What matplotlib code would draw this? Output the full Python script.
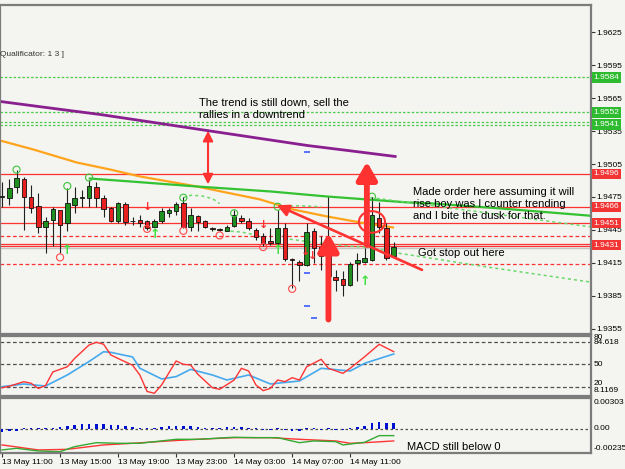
import numpy as np
import matplotlib
matplotlib.use("Agg")
import matplotlib.pyplot as plt
import matplotlib.transforms as mtransforms
from matplotlib.patches import Ellipse

plt.rcParams['font.family'] = ['Liberation Sans', 'DejaVu Sans']

# __________________________________________________
# Data (M30 bars, index 0 = 13 May 11:00)
opens  = [1.94752, 1.94737, 1.94837, 1.94918, 1.94752, 1.94667, 1.94480, 1.94541, 1.94631, 1.94516,
          1.94677, 1.94737, 1.94743, 1.94843, 1.94743, 1.94646, 1.94532, 1.94686, 1.94532, 1.94541,
          1.94532, 1.94480, 1.94535, 1.94601, 1.94622, 1.94692, 1.94480, 1.94577, 1.94532, 1.94471,
          1.94459, 1.94441, 1.94489, 1.94556, 1.94532, 1.94450, 1.94390, 1.94344, 1.94329, 1.94471,
          1.94184, 1.94157, 1.94133, 1.94435, 1.94293, 1.94210, 1.94018, 1.94006, 1.93943, 1.94148,
          1.94157, 1.94178, 1.94560, 1.94471, 1.94208]
highs  = [1.94888, 1.94918, 1.94994, 1.94933, 1.94858, 1.94782, 1.94571, 1.94661, 1.94631, 1.94828,
          1.94843, 1.94812, 1.94903, 1.94888, 1.94767, 1.94661, 1.94707, 1.94707, 1.94571, 1.94586,
          1.94541, 1.94547, 1.94646, 1.94646, 1.94707, 1.94752, 1.94646, 1.94586, 1.94541, 1.94480,
          1.94465, 1.94495, 1.94631, 1.94586, 1.94556, 1.94465, 1.94420, 1.94465, 1.94631, 1.94510,
          1.94193, 1.94178, 1.94510, 1.94465, 1.94390, 1.94752, 1.94088, 1.94073, 1.94154, 1.94239,
          1.94284, 1.94752, 1.94700, 1.94510, 1.94335]
lows   = [1.94661, 1.94677, 1.94782, 1.94450, 1.94601, 1.94420, 1.94239, 1.94299, 1.94239, 1.94435,
          1.94601, 1.94661, 1.94661, 1.94661, 1.94571, 1.94526, 1.94516, 1.94495, 1.94495, 1.94480,
          1.94450, 1.94474, 1.94510, 1.94571, 1.94586, 1.94465, 1.94435, 1.94435, 1.94465, 1.94435,
          1.94435, 1.94435, 1.94480, 1.94510, 1.94450, 1.94359, 1.94299, 1.94314, 1.94314, 1.94163,
          1.93921, 1.93982, 1.94118, 1.94148, 1.94088, 1.94000, 1.93891, 1.93846, 1.93937, 1.93982,
          1.94148, 1.94163, 1.94420, 1.94178, 1.94193]
closes = [1.94755, 1.94828, 1.94927, 1.94752, 1.94652, 1.94480, 1.94532, 1.94640, 1.94495, 1.94692,
          1.94737, 1.94752, 1.94849, 1.94743, 1.94637, 1.94532, 1.94698, 1.94522, 1.94535, 1.94510,
          1.94471, 1.94532, 1.94622, 1.94631, 1.94686, 1.94480, 1.94586, 1.94526, 1.94480, 1.94459,
          1.94453, 1.94480, 1.94586, 1.94535, 1.94471, 1.94381, 1.94329, 1.94329, 1.94471, 1.94184,
          1.94172, 1.94127, 1.94426, 1.94284, 1.94208, 1.94030, 1.93997, 1.93943, 1.94139, 1.94178,
          1.94193, 1.94586, 1.94480, 1.94193, 1.94290]

time_ticks  = [0, 8, 16, 24, 32, 40, 48]
time_labels = ['13 May 11:00', '13 May 15:00', '13 May 19:00', '13 May 23:00',
               '14 May 03:00', '14 May 07:00', '14 May 11:00']

# moving averages (bar index, price)
purple_x = [-0.3, 6.6, 13.5, 20.4, 27.3, 34.7, 42.1, 48.2, 54.2]
purple_y = [1.95621, 1.95561, 1.95502, 1.95434, 1.95365, 1.95292, 1.95219, 1.95169, 1.95119]
orange_x = [-0.3, 4.3, 10.3, 14.9, 19.0, 26.9, 35.6, 40.1, 44.8, 49.4, 53.9]
orange_y = [1.95265, 1.95183, 1.95064, 1.95000, 1.94937, 1.94845, 1.94727, 1.94636, 1.94572, 1.94517, 1.94472]
green_x  = [12.1, 17.7, 26.9, 37.0, 44.8, 55.9, 59.4, 68.7, 80.7, 81.5]
green_y  = [1.94918, 1.94891, 1.94845, 1.94800, 1.94754, 1.94700, 1.94690, 1.94645, 1.94581, 1.94575]

# light green dashed curves
dash_curves = [
    ([25, 26, 27.5, 29, 30], [1.94743, 1.94765, 1.94760, 1.94735, 1.94690]),
    ([29, 31, 33, 34.6], [1.94453, 1.94440, 1.94430, 1.94408]),
    ([38, 41, 44], [1.94661, 1.94670, 1.94660]),
    ([50.8, 65.7, 80.7, 81.5], [1.94745, 1.94615, 1.94481, 1.94475]),
    ([38, 43, 48, 51, 54, 67, 81.5], [1.94380, 1.94335, 1.94300, 1.94290, 1.94244, 1.94110, 1.93970]),
]

# horizontal levels
red_levels    = [1.9496, 1.9466, 1.9451, 1.94325, 1.94305]
red_dashed    = [1.94393, 1.94138]
green_dotted  = [1.9584, 1.9552, 1.95437, 1.95407]
bid_price     = 1.94285
level_boxes   = [(1.9584, 'g'), (1.9552, 'g'), (1.9541, 'g'),
                 (1.9496, 'r'), (1.9466, 'r'), (1.9451, 'r'), (1.9431, 'r')]

# fractal / signal marks
hi_circles_x = [2, 9, 12, 25, 32, 38, 51]
hi_circles_y = [1.94999, 1.94849, 1.94927, 1.94743, 1.94601, 1.94661, 1.94752]
lo_circles_x = [8, 20, 25, 30, 36, 40]
lo_circles_y = [1.94199, 1.94459, 1.94441, 1.94399, 1.94293, 1.93912]
up_arrows    = [(9, 1.94263), (21, 1.94405), (38, 1.94263), (50, 1.93982)]
down_arrows  = [(20, 1.94661), (36, 1.94495), (41.8, 1.94244), (42.8, 1.94216)]
blue_marks_x = [42, 42, 42, 43]
blue_marks_y = [1.95163, 1.94058, 1.93759, 1.93650]

# stochastic (bar index, value)
stoch_k_x = [0, 1, 3, 4, 5, 6, 7, 9, 10, 12, 13, 14, 15, 16, 18, 19, 20, 21, 22, 24, 25, 26, 27,
             29, 30, 32, 33, 34, 35, 36, 37, 38, 39, 40, 41, 42, 44, 45, 47, 48, 50, 52, 54]
stoch_k_y = [19, 21, 27, 25, 18, 22, 40, 47, 58, 76, 79.6, 77, 62.7, 58, 49, 36, 14, 11.6, 22.7, 54.7,
             50.2, 49.3, 37, 19, 16.9, 29.3, 44.9, 41.3, 22.7, 15.1, 18.2, 29.3, 27.1, 32.4, 29.3, 47,
             56.9, 44.9, 38.2, 44.9, 60.4, 76.9, 67.1]
stoch_d_x = [0, 3, 6, 9, 12, 14, 15, 18, 19, 22, 24, 26, 29, 31, 34, 37, 41, 44, 48, 50, 54]
stoch_d_y = [20.4, 24, 21.3, 36, 54, 67, 66.2, 60, 45, 30.7, 33.8, 43.5, 36, 29.3, 36, 24, 28,
             44.9, 41.3, 51.6, 64]

# MACD histogram (x1e-4) per bar and its two lines
macd_hist = [-3, -2, -2, 1, 1, 0.5, 1, 1, 2, 3, 4, 5, 5, 5, 5, 4, 4, 3, 2, 1, 0.5, 1, 2, 3, 3, 3, 3,
             2, 1, 1, 1, 1.5, 2, 2, 1, 0.5, -1, -1, 1, -1, -1.5, -1.5, 1, 1, -1, 0.5, -1, -1, 1, 1.5,
             3, 6, 7, 6, 6]
macd_g_x = [0, 2, 5, 8, 10, 13, 16, 19, 24, 27, 32, 35, 38, 41, 43, 46, 47, 50, 52, 54]
macd_g_y = [-0.00205, -0.00189, -0.00215, -0.00222, -0.00173, -0.00134, -0.00140, -0.00140, -0.00101,
            -0.00101, -0.00081, -0.00085, -0.00085, -0.00134, -0.00117, -0.00124, -0.00156, -0.00130,
            -0.00065, -0.00065]
macd_r_x = [0, 5, 9, 14, 18, 23, 27, 32, 37, 41, 46, 48, 50, 54]
macd_r_y = [-0.00156, -0.00205, -0.00199, -0.00156, -0.00140, -0.00117, -0.00101, -0.00085, -0.00085,
            -0.00101, -0.00117, -0.00140, -0.00134, -0.00117]

# __________________________________________________
# Figure
BG   = '#f4f4f0'
RED  = '#ff3232'
EDGE = '#7c7c7c'
XLIM = (-0.28, 81.2)

fig = plt.figure(figsize=(6.25, 4.69), dpi=100, facecolor=BG)
ax  = fig.add_axes([0, 0.2878, 0.9456, 0.7015], facecolor=BG)
ax2 = fig.add_axes([0, 0.1557, 0.9456, 0.1279], facecolor=BG)
ax3 = fig.add_axes([0, 0.0341, 0.9456, 0.1173], facecolor=BG)

for a in (ax, ax2, ax3):
    a.set_xlim(*XLIM)
    for s in a.spines.values():
        s.set_color(EDGE)
        s.set_linewidth(1.6)
    a.tick_params(axis='x', bottom=False, labelbottom=False)
    a.tick_params(axis='y', left=False, labelleft=False)

# __________________________________________________
# Main price panel
ax.set_ylim(1.9350, 1.9650)
ax.yaxis.tick_right()
yt = np.arange(1.9355, 1.9626, 0.003)
ax.set_yticks(yt)
ax.set_yticklabels([f'{v:.4f}' for v in yt])
ax.tick_params(axis='y', right=True, labelright=True, labelsize=6, length=3, pad=1, color='#333333')

for lv in green_dotted:
    ax.axhline(lv, color='#4ccc4c', lw=0.9, ls=(0, (2, 1.5)), zorder=1)
for lv in red_levels:
    ax.axhline(lv, color=RED, lw=0.9, zorder=1)
for lv in red_dashed:
    ax.axhline(lv, color=RED, lw=0.9, ls=(0, (3, 2)), zorder=1)
ax.axhline(bid_price, color='#c4c4c4', lw=1, zorder=1)

ax.plot(purple_x, purple_y, color='#8a1f8f', lw=2, zorder=2)
ax.plot(orange_x, orange_y, color='#ffa41c', lw=1.6, zorder=2)
ax.plot(green_x, green_y, color='#32c232', lw=1.6, zorder=2)
for cx, cy in dash_curves:
    ax.plot(cx, cy, color='#6bd86b', lw=1.1, ls=(0, (2, 2)), zorder=2)

# candles
idx = np.arange(len(opens))
o, h, l, c = map(np.array, (opens, highs, lows, closes))
ax.vlines(idx, l, h, color='#202020', lw=0.8, zorder=3)
body_lo = np.minimum(o, c)
body_h  = np.maximum(np.abs(c - o), 0.00003)
cols = np.where(c >= o, '#1f8f1f', '#e82020')
ax.bar(idx, body_h, bottom=body_lo, width=0.62, color=cols, edgecolor='#101010', lw=0.6, zorder=4)

# signal marks
ax.scatter(hi_circles_x, hi_circles_y, s=26, facecolors='none', edgecolors='#3cc43c', lw=0.8, zorder=5)
ax.scatter(lo_circles_x, lo_circles_y, s=26, facecolors='none', edgecolors='#ff4848', lw=0.8, zorder=5)
for x, y in up_arrows:
    ax.text(x, y, '\u2191', color='#3ee03e', fontsize=9, fontweight='bold', family='DejaVu Sans',
            ha='center', va='center', zorder=5)
for x, y in down_arrows:
    ax.text(x, y, '\u2193', color='#ff3030', fontsize=8, fontweight='bold', family='DejaVu Sans',
            ha='center', va='center', zorder=5)
ax.plot(blue_marks_x, blue_marks_y, ls='none', marker='_', ms=5, mew=1.2, color='#3a5cff', zorder=5)

# hand drawn annotations
ax.annotate('', xy=(28.4, 1.95353), xytext=(28.4, 1.94864),
            arrowprops=dict(arrowstyle='<|-|>,head_width=0.3,head_length=0.6', color=RED, lw=1.5,
                            mutation_scale=10, shrinkA=0, shrinkB=0), zorder=6)
ax.annotate('', xy=(50.3, 1.95072), xytext=(50.3, 1.94311),
            arrowprops=dict(arrowstyle='-|>,head_width=0.6,head_length=1.05', color=RED, lw=4.2,
                            mutation_scale=10, shrinkA=0, shrinkB=0), zorder=6)
ax.annotate('', xy=(45.0, 1.94420), xytext=(45.0, 1.93632),
            arrowprops=dict(arrowstyle='-|>,head_width=0.6,head_length=1.05', color=RED, lw=4.2,
                            mutation_scale=10, shrinkA=0, shrinkB=0, capstyle='round'), zorder=6)
ax.annotate('', xy=(37.9, 1.94674), xytext=(57.9, 1.94085),
            arrowprops=dict(arrowstyle='-|>,head_width=0.35,head_length=0.7', color=RED, lw=1.9,
                            mutation_scale=10, shrinkA=0, shrinkB=0), zorder=6)
ax.add_patch(Ellipse((51.0, 1.94522), 3.6, 0.00197, fill=False, ec=RED, lw=1.5, zorder=6))

ax.text(27.2, 1.95552, 'The trend is still down, sell the\nrallies in a downtrend',
        fontsize=8, ha='left', va='center', linespacing=1.3, zorder=7)
ax.text(56.7, 1.94690, 'Made order here assuming it will\nrise boy was I counter trending\nand I bite the dusk for that.',
        fontsize=8, ha='left', va='center', linespacing=1.25, zorder=7)
ax.text(57.4, 1.94235, 'Got stop out here', fontsize=8, ha='left', va='center', zorder=7)
ax.text(-0.28, 1.96049, 'Qualificator: 1 3 ]', fontsize=6, color='#333333', ha='left', va='center')

# price boxes on the right scale
blend = mtransforms.blended_transform_factory(ax.transAxes, ax.transData)
for price, kind in level_boxes:
    ax.text(1.004, price, f'{price:.4f}', transform=blend, fontsize=6, color='white',
            ha='left', va='center', clip_on=False, zorder=10,
            bbox=dict(boxstyle='square,pad=0.2', fc='#2fbb2f' if kind == 'g' else '#f23434', ec='none'))

# __________________________________________________
# Stochastic panel
ax2.set_ylim(8, 88)
for lv in (80, 50, 20):
    ax2.axhline(lv, color='#505050', lw=0.9, ls=(0, (3, 2)))
ax2.plot(stoch_d_x, stoch_d_y, color='#45a9ee', lw=1.2)
ax2.plot(stoch_k_x, stoch_k_y, color='#ff3434', lw=1.0)
b2 = mtransforms.blended_transform_factory(ax2.transAxes, ax2.transData)
for txt, y in [('80', 86), ('84.618', 79.5), ('50', 50), ('20', 24), ('8.1169', 15.5)]:
    ax2.text(1.004, y, txt, transform=b2, fontsize=6, ha='left', va='center', clip_on=False)

# __________________________________________________
# MACD panel
ax3.set_ylim(-0.00235, 0.00303)
ax3.axhline(0, color='#505050', lw=0.9, ls=(0, (2, 2)))
ax3.bar(idx, np.array(macd_hist) * 1e-4, width=0.35, color='#0010d0', zorder=3)
ax3.plot(macd_r_x, macd_r_y, color='#ff3434', lw=1.0)
ax3.plot(macd_g_x, macd_g_y, color='#33aa33', lw=1.0)
ax3.text(55.9, -0.00176, 'MACD still below 0', fontsize=8, ha='left', va='center')
b3 = mtransforms.blended_transform_factory(ax3.transAxes, ax3.transData)
for txt, y in [('0.00303', 0.0026), ('0.00', 0.0), ('-0.00235', -0.0019)]:
    ax3.text(1.004, y, txt, transform=b3, fontsize=6, ha='left', va='center', clip_on=False)

ax3.set_xticks(time_ticks)
ax3.set_xticklabels(time_labels)
ax3.tick_params(axis='x', bottom=True, labelbottom=True, labelsize=6, length=3, pad=1.5, color='#333333')
for lbl in ax3.get_xticklabels():
    lbl.set_ha('left')

fig.savefig('out.png', dpi=100, facecolor=BG)
